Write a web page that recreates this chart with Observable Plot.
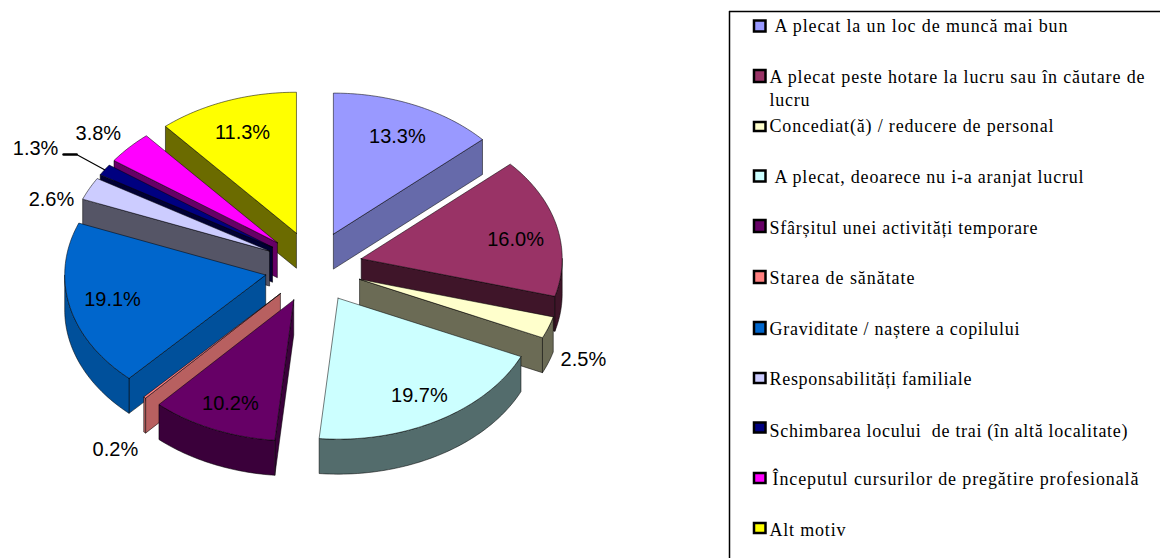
<!DOCTYPE html>
<html lang="ro">
<head>
<meta charset="utf-8">
<style>
  html, body { margin: 0; padding: 0; background: #fff; }
  svg { display: block; }
</style>
<script src="https://cdn.jsdelivr.net/npm/d3@7"></script>
<script src="https://cdn.jsdelivr.net/npm/@observablehq/plot@0.6"></script>
</head>
<body>
<div id="chart"></div>
<script>
// ---- data -------------------------------------------------------------
const categories = [
  "A plecat la un loc de muncă mai bun",
  "A plecat peste hotare la lucru sau în căutare de\nlucru",
  "Concediat(ă) / reducere de personal",
  "A plecat, deoarece nu i-a aranjat lucrul",
  "Sfârșitul unei activități temporare",
  "Starea de sănătate",
  "Graviditate / naștere a copilului",
  "Responsabilități familiale",
  "Schimbarea locului  de trai (în altă localitate)",
  "Începutul cursurilor de pregătire profesională",
  "Alt motiv"
];
const shares = [13.3, 16.0, 2.5, 19.7, 10.2, 0.2, 19.1, 2.6, 1.3, 3.8, 11.3];
const shareLabels = ["13.3%", "16.0%", "2.5%", "19.7%", "10.2%", "0.2%", "19.1%", "2.6%", "1.3%", "3.8%", "11.3%"];

// ---- styles -----------------------------------------------------------
const topColours  = ["#9999FF", "#993366", "#FFFFCC", "#CCFFFF", "#660066", "#FF8080", "#0066CC", "#CCCCFF", "#000080", "#FF00FF", "#FFFF00"];
const wallColours = ["#666AAA", "#3F1529", "#6B6B55", "#536C6C", "#3A003A", "#B86060", "#00509B", "#555566", "#000033", "#660066", "#6B6B00"];

// ---- layout -----------------------------------------------------------
const pie = {cx: 313, cy: 266.5, a: 201, b: 141, depth: 35, explodeX: 49, explodeY: 36};
const paintOrder = [10, 9, 8, 7, 6, 0, 1, 2, 5, 4, 3];
// label placement relative to each slice's tip: bearing in degrees, reach in radii
const labelBearing = [24.7, 80, 117.1, 149.6, 203.2, 216.6, 257.1, 288.6, 300.7, 311, 339.4];
const labelReach   = [0.762, 0.78, 1.251, 0.80, 0.80, 1.377, 0.782, 1.145, 1.371, 1.18, 0.763];
const leaderSlice = 8;

const legendBox = {x: 729, y: 11};
const swatchX = [754, 765.5];
const swatchCentre = [26, 76, 126.5, 176, 226, 277, 328, 378, 427.5, 478, 528];
const swatchTall   = [11, 12, 9, 11, 12, 12, 12, 10, 10, 10, 10];
// one entry per text line
const lineX        = [774, 769, 769, 769, 774, 769, 769, 769, 769, 769, 772, 769];
const lineBaseline = [31, 82, 105, 131, 182, 233, 283, 334, 384, 436, 484, 535];
const lineWidth    = [293, 375, 40, 284, 309, 268, 145, 250, 202, 358, 366, 76];

// ---- geometry derived from the shares ---------------------------------
const rad = d => d * Math.PI / 180;
let acc = 0;
const slices = shares.map((v, i) => {
  const t0 = acc * 3.6; acc += v; const t1 = acc * 3.6; const m = (t0 + t1) / 2;
  return {i, t0, t1, m,
    ax: pie.cx + pie.explodeX * Math.sin(rad(m)),
    ay: pie.cy - pie.explodeY * Math.cos(rad(m))};
});
const rim = (s, t, drop = 0) => ({
  x: s.ax + pie.a * Math.sin(rad(t)),
  y: s.ay - pie.b * Math.cos(rad(t)) + drop
});
const arc = (s, t0, t1, drop = 0) => {
  const n = Math.max(2, Math.ceil(t1 - t0));
  return d3.range(n + 1).map(k => rim(s, t0 + (t1 - t0) * k / n, drop));
};
const polys = [];
const add = (pts, fill) => {
  const id = polys.length;
  polys.push(...[...pts, pts[0]].map(p => ({...p, id, fill})));
};
for (const idx of paintOrder) {
  const s = slices[idx];
  const tip = {x: s.ax, y: s.ay}, tipB = {x: s.ax, y: s.ay + pie.depth};
  const wall = wallColours[idx];
  // radial wall facing the viewer
  if (s.t0 > 180) add([tip, rim(s, s.t0), rim(s, s.t0, pie.depth), tipB], wall);
  if (s.t1 < 180) add([tip, rim(s, s.t1), rim(s, s.t1, pie.depth), tipB], wall);
  // outer curved wall, where it faces the viewer
  const from = Math.max(s.t0, 90), to = Math.min(s.t1, 270);
  if (to > from) add([...arc(s, from, to), ...arc(s, from, to, pie.depth).reverse()], wall);
  // top face
  add([tip, ...arc(s, s.t0, s.t1)], topColours[idx]);
}

const labels = slices.map(s => ({
  text: shareLabels[s.i],
  x: s.ax + pie.a * labelReach[s.i] * Math.sin(rad(labelBearing[s.i])),
  y: s.ay - pie.b * labelReach[s.i] * Math.cos(rad(labelBearing[s.i]))
}));

const ls = slices[leaderSlice], ll = labels[leaderSlice];
const leaderStart = {x: ll.x + 28, y: ll.y + 6};
const leaderElbow = {x: ll.x + 41, y: ll.y + 6};
const leaderEnd = rim(ls, ls.m);

const swatches = categories.map((c, i) => ({
  x1: swatchX[0], x2: swatchX[1],
  y1: swatchCentre[i] - swatchTall[i] / 2, y2: swatchCentre[i] + swatchTall[i] / 2,
  fill: topColours[i]
}));
const legendLines = categories.flatMap(c => c.split("\n"))
  .map((text, i) => ({text, x: lineX[i], y: lineBaseline[i], w: lineWidth[i]}));

const chart = Plot.plot({
  width: 1160, height: 558,
  marginTop: 0, marginRight: 0, marginBottom: 0, marginLeft: 0,
  x: {domain: [0, 1160], range: [0, 1160], axis: null},
  y: {domain: [0, 558], range: [0, 558], axis: null},
  color: {type: "identity"},
  style: {background: "#fff"},
  marks: [
    Plot.line(polys, {x: "x", y: "y", z: "id", fill: "fill", stroke: "#000", strokeWidth: 0.7, strokeOpacity: 0.75, strokeLinejoin: "miter"}),
    Plot.line([leaderStart, leaderElbow], {x: "x", y: "y", stroke: "#000", strokeWidth: 2.6}),
    Plot.line([leaderElbow, leaderEnd], {x: "x", y: "y", stroke: "#000", strokeWidth: 1.2}),
    Plot.text(labels, {x: "x", y: "y", text: "text", fontFamily: "Liberation Sans", fontSize: 20, fill: "#000", textAnchor: "middle", lineAnchor: "middle"}),
    Plot.ruleY([legendBox.y], {x1: legendBox.x, x2: 1160, stroke: "#000", strokeWidth: 1.5}),
    Plot.ruleX([legendBox.x], {y1: legendBox.y, y2: 558, stroke: "#000", strokeWidth: 1.5}),
    Plot.rect(swatches, {x1: "x1", x2: "x2", y1: "y1", y2: "y2", fill: "fill", stroke: "#000", strokeWidth: 2.5, inset: 0}),
    Plot.text(legendLines, {
      x: "x", y: "y", text: "text", fontFamily: "Liberation Serif", fontSize: 18, fill: "#000",
      textAnchor: "start", lineAnchor: "bottom",
      render(index, scales, values, dims, ctx, next) {
        const g = next(index, scales, values, dims, ctx);
        d3.select(g).selectAll("text").each(function(_, k) {
          this.setAttribute("textLength", legendLines[index[k]].w);
          this.setAttribute("lengthAdjust", "spacing");
        });
        return g;
      }
    })
  ]
});
document.getElementById("chart").append(chart);
</script>
</body>
</html>
